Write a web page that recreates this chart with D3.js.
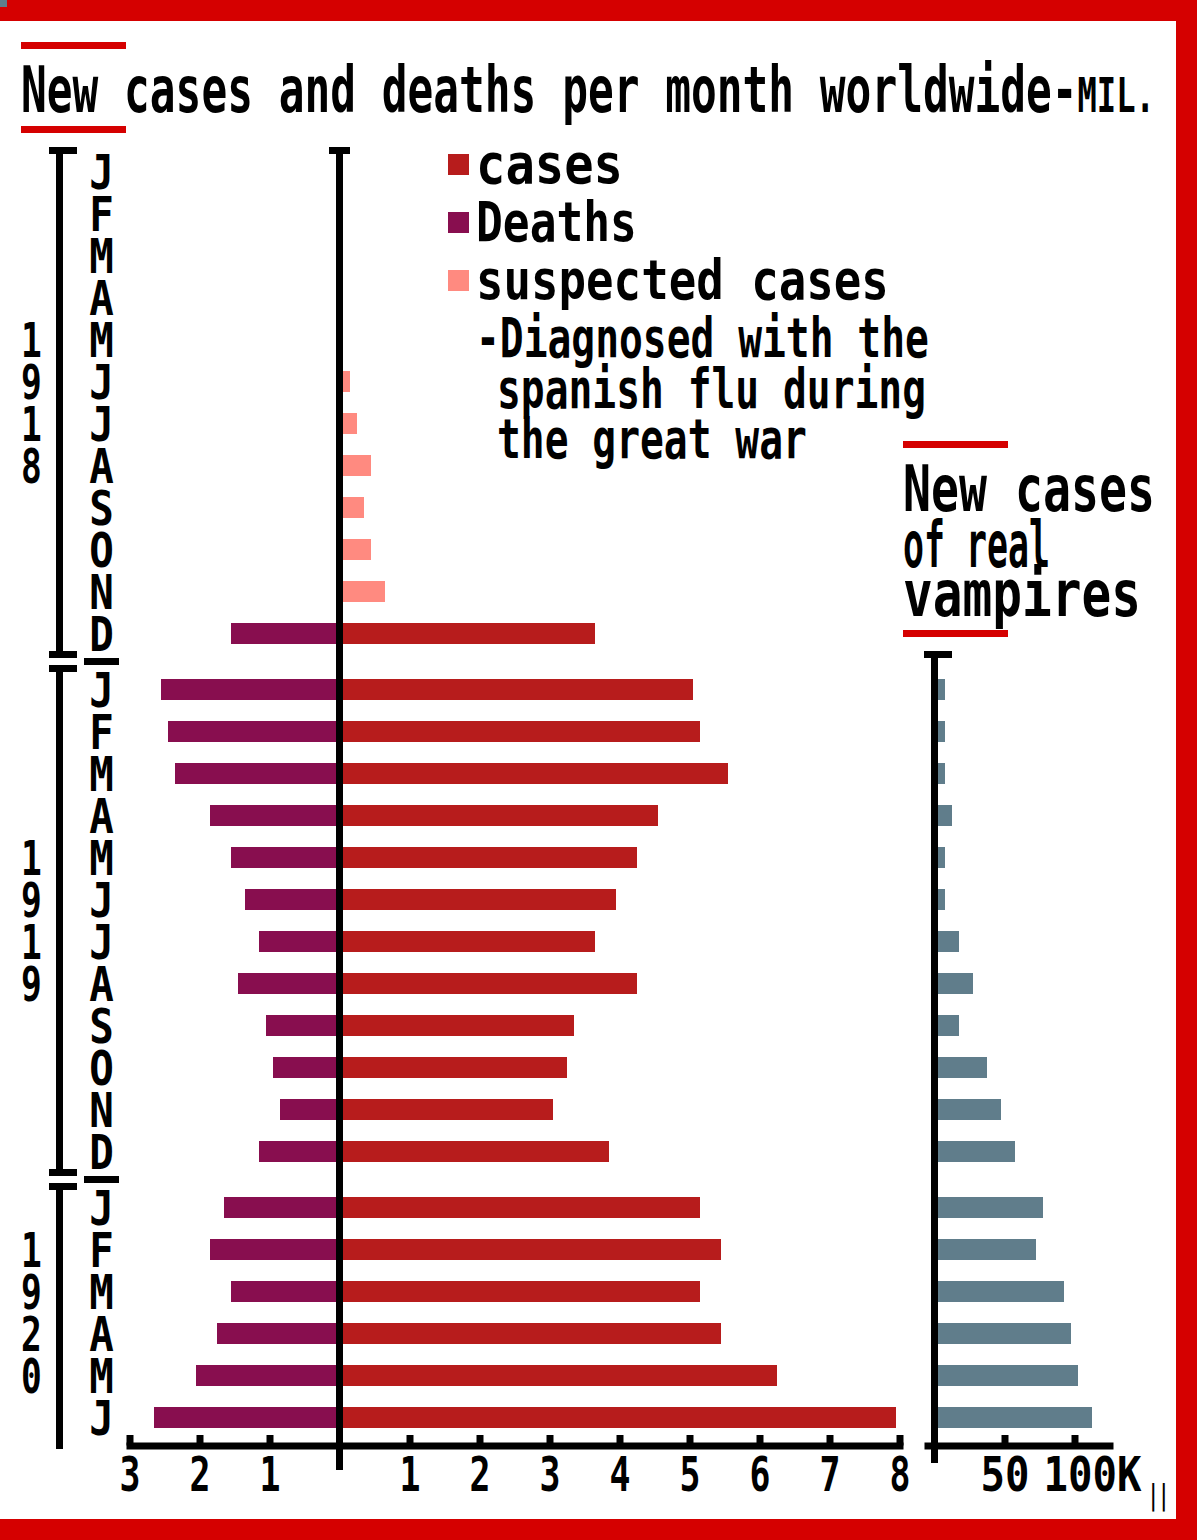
<!DOCTYPE html>
<html><head><meta charset="utf-8">
<script src="https://cdn.jsdelivr.net/npm/d3@7"></script>
<style>body{margin:0;background:#fff} svg{display:block}</style>
</head><body>
<script>
// ---------- data ----------
const yearLabels = ["1918", "1919", "1920"];
const monthLetters = ["J","F","M","A","M","J","J","A","S","O","N","D"];
const monthsPerYear = [12, 12, 6];
// millions per month, Jan 1918 .. Jun 1920
const casesMil = [0,0,0,0,0,0,0,0,0,0,0,3.6,
                  5.0,5.1,5.5,4.5,4.2,3.9,3.6,4.2,3.3,3.2,3.0,3.8,
                  5.1,5.4,5.1,5.4,6.2,7.9];
const deathsMil = [0,0,0,0,0,0,0,0,0,0,0,1.5,
                   2.5,2.4,2.3,1.8,1.5,1.3,1.1,1.4,1.0,0.9,0.8,1.1,
                   1.6,1.8,1.5,1.7,2.0,2.6];
const suspectedMil = [0,0,0,0,0,0.1,0.2,0.4,0.3,0.4,0.6,0,
                      0,0,0,0,0,0,0,0,0,0,0,0,
                      0,0,0,0,0,0];
// thousands per month
const vampiresK = [0,0,0,0,0,0,0,0,0,0,0,0,
                   5,5,5,10,5,5,15,25,15,35,45,55,
                   75,70,90,95,100,110];
const caseTicks = [-3,-2,-1,1,2,3,4,5,6,7,8];
const caseTickLabels = ["3","2","1","1","2","3","4","5","6","7","8"];
const vampTicks = [50, 100];
const vampTickLabels = ["50", "100K"];
const legendLabels = ["cases", "Deaths", "suspected cases"];
const legendNote = ["-Diagnosed with the", "spanish flu during", "the great war"];
const titleMain = "New cases and deaths per month worldwide-";
const titleUnit = "MIL.";
const vampTitle = ["New cases", "of real", "vampires"];
const cornerMark = "||";

// ---------- colours ----------
const C = {frame:"#d50000", cases:"#b71c1c", deaths:"#880e4f", susp:"#ff8a80", vamp:"#607d8b", ink:"#000"};
const FONT = "'DejaVu Sans Mono', monospace";

// ---------- rows ----------
const rows = [];
yearLabels.forEach((yl, yi) => {
  for (let m = 0; m < monthsPerYear[yi]; m++) rows.push({yi, m, slot: rows.length + yi / 3});
});
rows.forEach((r, i) => {
  r.cases = casesMil[i]; r.deaths = deathsMil[i]; r.susp = suspectedMil[i]; r.vamp = vampiresK[i];
});

const W = 1197, H = 1540;
const svg = d3.select("body").append("svg").attr("width", W).attr("height", H)
  .attr("font-family", FONT).attr("font-weight", "bold");
svg.append("rect").attr("width", W).attr("height", H).attr("fill", "#fff");

// scales
const y = d3.scaleLinear().domain([0, 1]).range([161, 203]);
const barH = 21;
const xCases = d3.scaleLinear().domain([0, 8]).range([343, 903]);
const xDeaths = d3.scaleLinear().domain([0, 3]).range([336, 126]);
const xAxisS = d3.scaleLinear().domain([-3, 8]).range([129.5, 899.5]);
const xV = d3.scaleLinear().domain([0, 100]).range([938, 1078]);
const xVAxis = d3.scaleLinear().domain([-5, 125]).range([927.5, 1109.5]);

// text squeezed horizontally to a target width
function squeeze(t, x, yy, len) {
  const w = t.node().getComputedTextLength() || len;
  t.attr("x", 0).attr("y", 0).attr("transform", `translate(${x},${yy}) scale(${len / w},1)`);
  return t;
}
function txt(g, s, x, yy, size, len, anchor) {
  const t = g.append("text").attr("font-size", size).text(s);
  if (anchor) t.attr("text-anchor", anchor);
  if (len) squeeze(t, x, yy, len); else t.attr("x", x).attr("y", yy);
  return t;
}
// a vertical column of characters, one per given baseline, in one text element
function column(g, chars, x, baselines, size, sx) {
  const t = g.append("text").attr("font-size", size).attr("text-anchor", "middle")
    .attr("transform", `translate(${x},0) scale(${sx},1)`);
  chars.forEach((ch, k) => t.append("tspan").attr("x", 0).attr("y", baselines[k]).text(ch));
  return t;
}
function box(x0, y0, x1, y1, fill) {
  svg.append("rect").attr("x", x0).attr("y", y0).attr("width", x1 - x0).attr("height", y1 - y0).attr("fill", fill);
}

// ---------- title ----------
box(21, 42, 126, 49, C.frame);
box(21, 126, 126, 133, C.frame);
const tt = svg.append("text").attr("font-size", 64).text(titleMain);
tt.append("tspan").attr("font-size", 48).text(titleUnit);
squeeze(tt, 21, 112, 1134);

// ---------- bars ----------
const gb = svg.append("g");
gb.selectAll(".cases").data(rows.filter(r => r.cases > 0)).join("rect")
  .attr("x", xCases(0)).attr("y", r => y(r.slot)).attr("height", barH)
  .attr("width", r => xCases(r.cases) - xCases(0)).attr("fill", C.cases);
gb.selectAll(".deaths").data(rows.filter(r => r.deaths > 0)).join("rect")
  .attr("x", r => xDeaths(r.deaths)).attr("y", r => y(r.slot)).attr("height", barH)
  .attr("width", r => xDeaths(0) - xDeaths(r.deaths)).attr("fill", C.deaths);
gb.selectAll(".susp").data(rows.filter(r => r.susp > 0)).join("rect")
  .attr("x", xCases(0)).attr("y", r => y(r.slot)).attr("height", barH)
  .attr("width", r => xCases(r.susp) - xCases(0)).attr("fill", C.susp);
gb.selectAll(".vamp").data(rows.filter(r => r.vamp > 0)).join("rect")
  .attr("x", xV(0)).attr("y", r => y(r.slot)).attr("height", barH)
  .attr("width", r => xV(r.vamp) - xV(0)).attr("fill", C.vamp);

// ---------- central axis ----------
box(336, 147, 343, 1470, C.ink);
box(329, 147, 350, 154, C.ink);

const ax = svg.append("g").attr("transform", "translate(0,1445.5)")
  .call(d3.axisBottom(xAxisS).tickValues(caseTicks).tickSize(-10.5).tickSizeOuter(0).tickFormat((d, i) => caseTickLabels[i]));
ax.attr("font-family", null).attr("font-size", null);
ax.select(".domain").attr("stroke", C.ink).attr("stroke-width", 7).attr("stroke-linecap", "square");
ax.selectAll(".tick line").attr("stroke", C.ink).attr("stroke-width", 7);
ax.selectAll(".tick text").attr("dy", null).attr("font-size", 48).attr("fill", C.ink)
  .each(function() { squeeze(d3.select(this), 0, 45.5, 21); });

// ---------- vampire axis ----------
box(931, 651, 938, 1463, C.ink);
box(924, 651, 952, 658, C.ink);
const vax = svg.append("g").attr("transform", "translate(0,1445.5)")
  .call(d3.axisBottom(xVAxis).tickValues(vampTicks).tickSize(-10.5).tickSizeOuter(0).tickFormat((d, i) => vampTickLabels[i]));
vax.attr("font-family", null).attr("font-size", null);
vax.select(".domain").attr("stroke", C.ink).attr("stroke-width", 7).attr("stroke-linecap", "square");
vax.selectAll(".tick line").attr("stroke", C.ink).attr("stroke-width", 7);
vax.selectAll(".tick text").attr("dy", null).attr("font-size", 48).attr("fill", C.ink)
  .attr("text-anchor", (d, i) => i === 0 ? "middle" : "start")
  .each(function(d, i) { squeeze(d3.select(this), i === 0 ? 0 : -31.5, 45.5, i === 0 ? 49 : 98); });
txt(svg, cornerMark, 1158.5, 1505, 28, 21, "middle");

// ---------- month & year labels ----------
const gl = svg.append("g");
yearLabels.forEach((yl, yi) => {
  const yr = rows.filter(r => r.yi === yi);
  column(gl, yr.map(r => monthLetters[r.m]), 101.5, yr.map(r => y(r.slot) + 28), 48, 0.85);
  const startRow = yr.length === 12 ? 4 : 1;
  column(gl, yl.split(""), 31.5, yl.split("").map((ch, k) => y(yr[startRow + k].slot) + 28), 48, 0.72);

  // bracket
  const first = y(yr[0].slot), last = y(yr[yr.length - 1].slot) + barH;
  const top = first - 14;
  const isLast = yi === yearLabels.length - 1;
  const bottom = isLast ? 1449 : last + 14;
  box(56, top, 63, bottom, C.ink);
  box(49, top, 77, top + 7, C.ink);
  if (!isLast) {
    box(49, bottom - 7, 77, bottom, C.ink);
    box(84, bottom, 119, bottom + 7, C.ink);
  }
});

// ---------- legend ----------
const legColors = [C.cases, C.deaths, C.susp];
const legLens = [147, 161, 413];
const legBase = [183, 241, 299];
legendLabels.forEach((s, i) => {
  box(448, legBase[i] - 29, 469, legBase[i] - 8, legColors[i]);
  txt(svg, s, 476, legBase[i], 56, legLens[i]);
});
// note lines in one text element, shared squeeze
const noteX = [476, 497, 497], noteBase = [357, 408, 458];
const noteSx = 0.707;
const nt = svg.append("text").attr("font-size", 56).attr("transform", `translate(476,0) scale(${noteSx},1)`);
legendNote.forEach((s, i) => nt.append("tspan").attr("x", (noteX[i] - 476) / noteSx).attr("y", noteBase[i]).text(s));

// ---------- vampire title ----------
box(903, 441, 1008, 448, C.frame);
box(903, 630, 1008, 637, C.frame);
const vLens = [252, 147, 238], vBase = [511, 567, 616];
vampTitle.forEach((s, i) => txt(svg, s, 903, vBase[i], 64, vLens[i]));

// ---------- frame ----------
box(0, 0, W, 21, C.frame);
box(1176, 0, W, H, C.frame);
box(0, 1519, W, H, C.frame);
box(0, 0, 7, 7, C.vamp);
</script>
</body></html>
